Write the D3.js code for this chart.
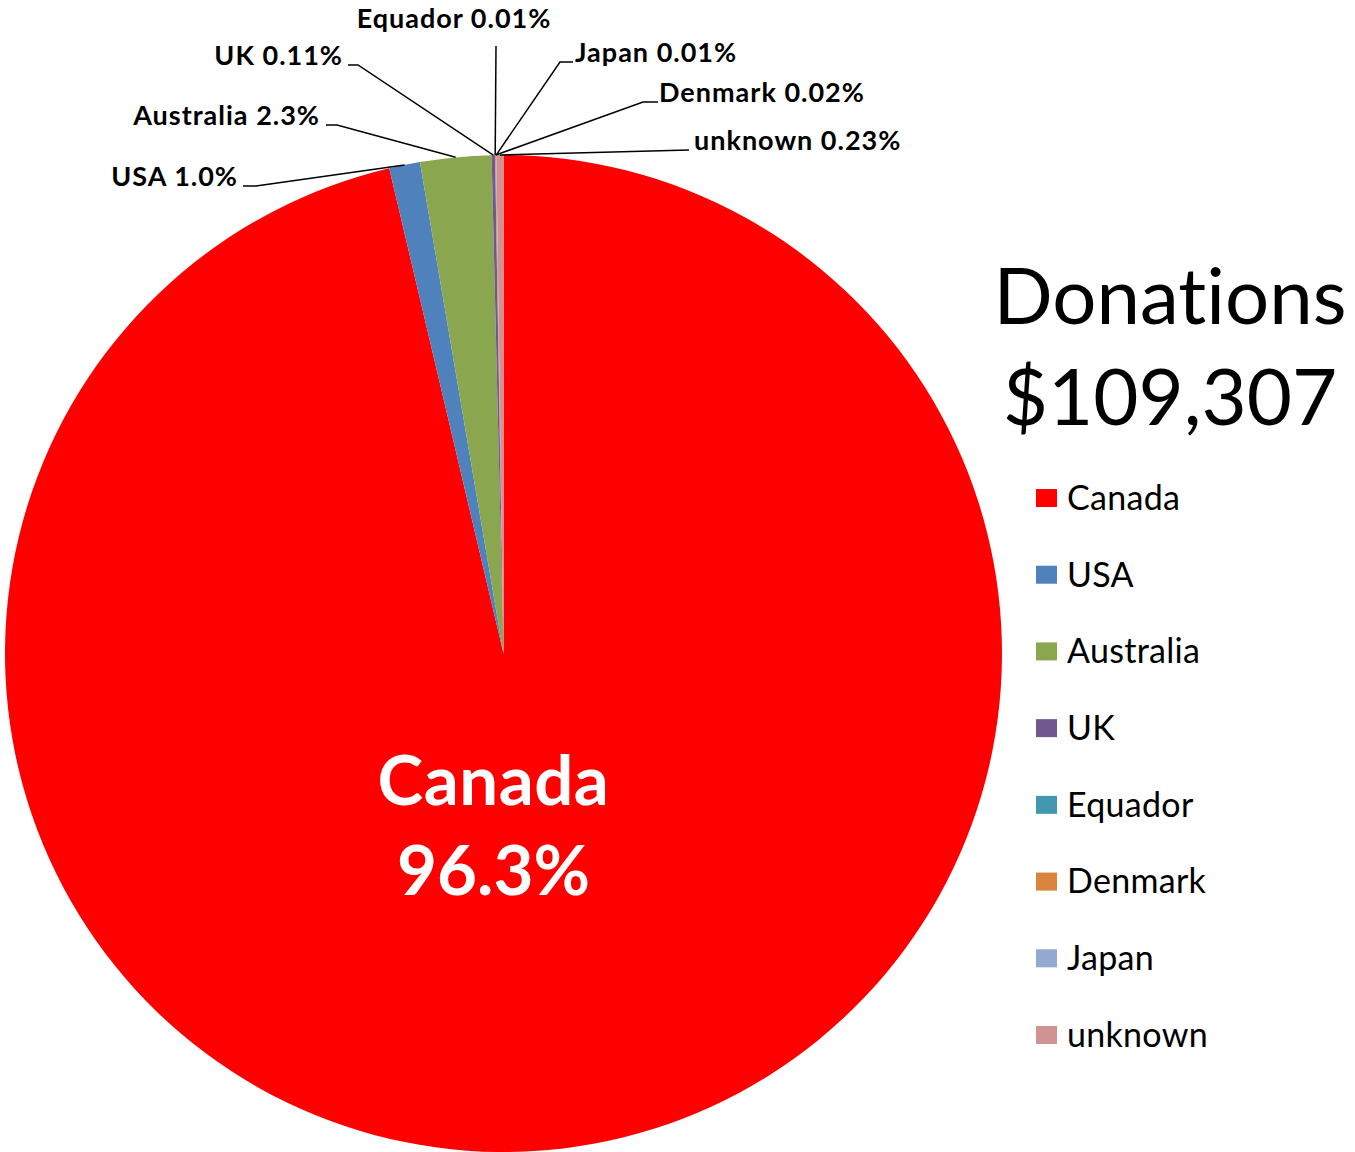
<!DOCTYPE html>
<html><head><meta charset="utf-8">
<script src="https://cdn.jsdelivr.net/npm/d3@7"></script>
<style>html,body{margin:0;padding:0;background:#fff;} text{font-variant-ligatures:none;font-feature-settings:"liga" 0;}</style>
</head><body>
<svg id="chart" width="1355" height="1152"></svg>
<script>
const categories = ["Canada","USA","Australia","UK","Equador","Denmark","Japan","unknown"];
const values = [96.3, 1.0, 2.3, 0.11, 0.01, 0.02, 0.01, 0.23];
const percentLabels = ["96.3%","1.0%","2.3%","0.11%","0.01%","0.02%","0.01%","0.23%"];
const colors = ["#FF0000","#4F81BD","#8AA64E","#71588F","#4198AF","#DB843D","#93A9CF","#D19392"];
const titleLines = ["Donations","$109,307"];

// label layout (text anchor point, leader start, elbow)
const labelLayout = {
  USA:       {x:238, y:177, anchor:"end",    p0:[243,186], p1:[256,186]},
  Australia: {x:320, y:116, anchor:"end",    p0:[326,125], p1:[337,125]},
  UK:        {x:343, y:56,  anchor:"end",    p0:[348,65],  p1:[358,65]},
  Equador:   {x:454, y:19,  anchor:"middle", p0:[496,46],  p1:[496,46]},
  Japan:     {x:575, y:53,  anchor:"start",  p0:[573,62],  p1:[560,62]},
  Denmark:   {x:659, y:93,  anchor:"start",  p0:[658,102], p1:[643,102]},
  unknown:   {x:694, y:141, anchor:"start",  p0:[689,150], p1:[689,150]}
};

const svg = d3.select("#chart");
const cx = 503.5, cy = 653.5, r = 498.5;
const data = categories.map((c,i)=>({name:c, value:values[i], label:percentLabels[i], color:colors[i]}));
const pie = d3.pie().sort(null).value(d=>d.value);
const arcs = pie(data);
const arc = d3.arc().innerRadius(0).outerRadius(r);
const edge = d3.arc().innerRadius(r).outerRadius(r);

const g = svg.append("g").attr("transform",`translate(${cx},${cy})`);
g.selectAll("path.slice").data(arcs).enter().append("path")
  .attr("class","slice").attr("d",arc).attr("fill",d=>d.data.color);

const font = "Lato, 'Open Sans', sans-serif";

// Canada inner label
const canada = arcs[0];
g.append("text").attr("x",-10).attr("y",151).attr("text-anchor","middle")
  .attr("font-family",font).attr("font-weight","bold").attr("font-size",69)
  .attr("letter-spacing",0.5).attr("fill","#fff").text(canada.data.name);
g.append("text").attr("x",-10).attr("y",241).attr("text-anchor","middle")
  .attr("font-family",font).attr("font-weight","bold").attr("font-size",69)
  .attr("fill","#fff").text(canada.data.label);

// outside labels with leader lines
arcs.slice(1).forEach(a=>{
  const L = labelLayout[a.data.name];
  const e = edge.centroid(a);
  const end = [cx+e[0], cy+e[1]];
  svg.append("polyline")
    .attr("points",[L.p0,L.p1,end].map(p=>p.join(",")).join(" "))
    .attr("fill","none").attr("stroke","#000").attr("stroke-width",1.5);
  svg.append("text").attr("x",L.x).attr("y",L.y).attr("dy","0.35em")
    .attr("text-anchor",L.anchor).attr("font-family",font).attr("font-weight","bold")
    .attr("font-size",27).attr("letter-spacing",1).attr("fill","#000")
    .text(a.data.name+" "+a.data.label);
});

// title
svg.selectAll("text.title").data(titleLines).enter().append("text")
  .attr("class","title").attr("x",1170).attr("y",(d,i)=>324+i*101)
  .attr("text-anchor","middle").attr("font-family",font).attr("font-size",78)
  .attr("fill","#000").text(d=>d);

// legend
const leg = svg.append("g");
const ly = d3.scalePoint().domain(categories).range([498,1035]);
categories.forEach((c,i)=>{
  leg.append("rect").attr("x",1036).attr("y",ly(c)-9).attr("width",21).attr("height",18).attr("fill",colors[i]);
  leg.append("text").attr("x",1067).attr("y",ly(c)).attr("dy","0.35em")
    .attr("font-family",font).attr("font-size",34).attr("letter-spacing",0.3)
    .attr("fill","#000").text(c);
});
</script>
</body></html>
